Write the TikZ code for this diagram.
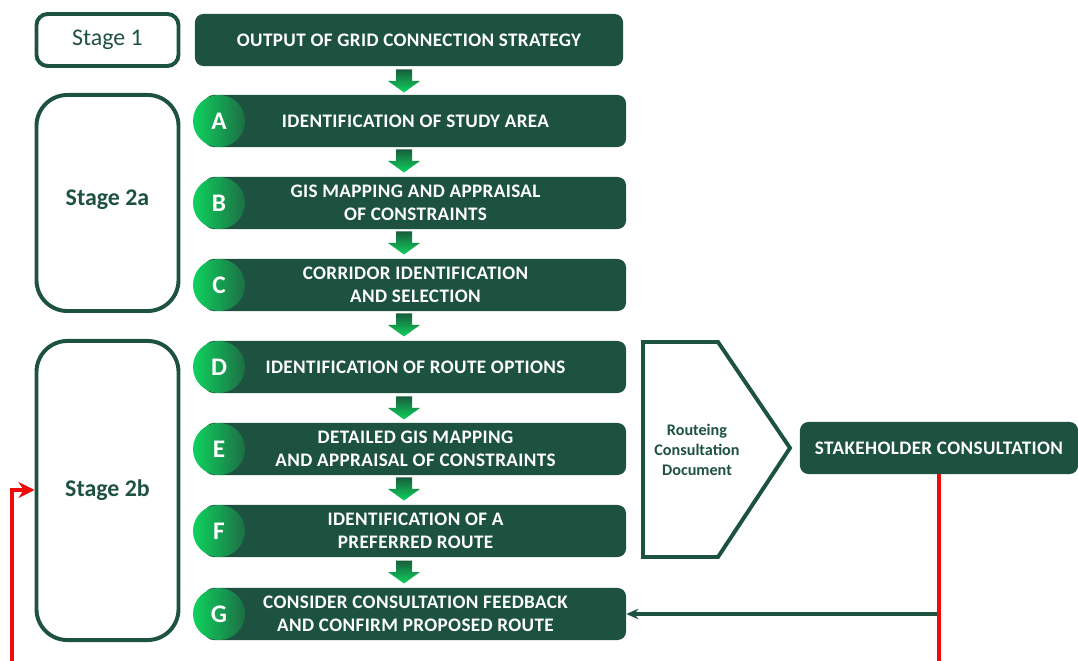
\documentclass[tikz,border=0pt]{standalone}
\usepackage{fontspec}
\setmainfont{Carlito}
\usetikzlibrary{arrows.meta, positioning, calc}
\definecolor{pinegreen}{HTML}{1E5240}
\definecolor{leafgreen}{HTML}{0FD25E}
\definecolor{midgreen}{HTML}{1C6E45}
\definecolor{loopred}{HTML}{F00A0A}

\begin{document}
\begin{tikzpicture}[
    x=0.025cm, y=-0.025cm,
    >={Stealth[length=3mm, width=2.6mm]},
    stagebox/.style={draw=pinegreen, line width=2.8pt, fill=white,
        minimum width=3.55cm, rounded corners=#1, text=pinegreen,
        font=\fontsize{17}{20}\selectfont\bfseries},
    stagebox/.default=22pt,
    stepbox/.style={fill=pinegreen, rounded corners=6pt, minimum width=10.525cm,
        minimum height=1.3cm, text=white, align=center,
        font=\fontsize{13.6}{16}\selectfont\addfontfeature{LetterSpace=2}\bfseries},
    letter/.style={circle, minimum size=1.3cm, inner sep=0pt, text=white,
        left color=leafgreen, right color=midgreen, shading angle=90,
        font=\fontsize{18}{20}\selectfont\bfseries},
    downarrow/.pic={
      \shade[top color=midgreen!85!black, bottom color=leafgreen]
        (-8,-11.5) -- (8,-11.5) -- (8,0) -- (16,0) -- (0,11.5)
        -- (-16,0) -- (-8,0) -- cycle;
    },
    feedback/.style={->, line width=2.6pt, pinegreen},
    redloop/.style={-{Stealth[length=4mm, width=4mm]}, line width=2.8pt, loopred},
  ]

  \clip (0,0) rectangle (1078,661);
  \fill[white] (0,0) rectangle (1078,661);

  % Stage boxes on the left
  \node[stagebox=8pt, minimum height=1.3cm, font=\fontsize{17}{20}\selectfont] (s1) at (107.5,40) {Stage 1};
  \node[stagebox, minimum height=5.4cm] (s2a) at (107.5,203) {};
  \node[text=pinegreen, font=\fontsize{17}{20}\selectfont\bfseries] at (107.5,200) {Stage 2a};
  \node[stagebox, minimum height=7.475cm] (s2b) at (107.5,490.5) {};
  \node[text=pinegreen, font=\fontsize{17}{20}\selectfont\bfseries] at (107.5,490) {Stage 2b};

  % Grid connection output
  \node[stepbox, minimum width=10.7cm] (out) at (409,40) {OUTPUT OF GRID CONNECTION STRATEGY};

  % Routeing steps A--G
  \foreach \tag/\ypos/\txt in {
      A/121/{IDENTIFICATION OF STUDY AREA},
      B/203/{GIS MAPPING AND APPRAISAL\\OF CONSTRAINTS},
      C/285/{CORRIDOR IDENTIFICATION\\AND SELECTION},
      D/367/{IDENTIFICATION OF ROUTE OPTIONS},
      E/449/{DETAILED GIS MAPPING\\AND APPRAISAL OF CONSTRAINTS},
      F/531/{IDENTIFICATION OF A\\PREFERRED ROUTE},
      G/614/{CONSIDER CONSULTATION FEEDBACK\\AND CONFIRM PROPOSED ROUTE}} {
    \node[stepbox] (\tag) at (415.5,\ypos) {\txt};
    \node[letter] (l\tag) at (219,\ypos) {\tag};
  }

  % Down arrows between steps
  \foreach \ypos in {81,161,243,325,408,489,572}
    \pic at (404,\ypos) {downarrow};

  % Routeing consultation document
  \draw[pinegreen, line width=2.8pt, line join=miter]
    (643,342) -- (718,342) -- (790,448) -- (718,557) -- (643,557) -- cycle;
  \node[text=pinegreen, align=center, font=\fontsize{11.5}{14}\selectfont\bfseries]
    (rcd) at (697,450) {Routeing\\Consultation\\Document};

  % Stakeholder consultation
  \node[fill=pinegreen, rounded corners=6pt, minimum width=6.95cm, minimum height=1.3cm,
        text=white, font=\fontsize{13.6}{16}\selectfont\addfontfeature{LetterSpace=2}\bfseries] (sh) at (939,448)
    {STAKEHOLDER CONSULTATION};

  % Feedback into step G
  \coordinate (fb) at (sh.south |- G.east);
  \draw[feedback] (fb) -- (G.east);

  % Loop back to stage 2b
  \draw[redloop] (sh.south) -- ++(0,260) -| (12,490) -- (s2b.west |- 0,490);

\end{tikzpicture}
\end{document}
